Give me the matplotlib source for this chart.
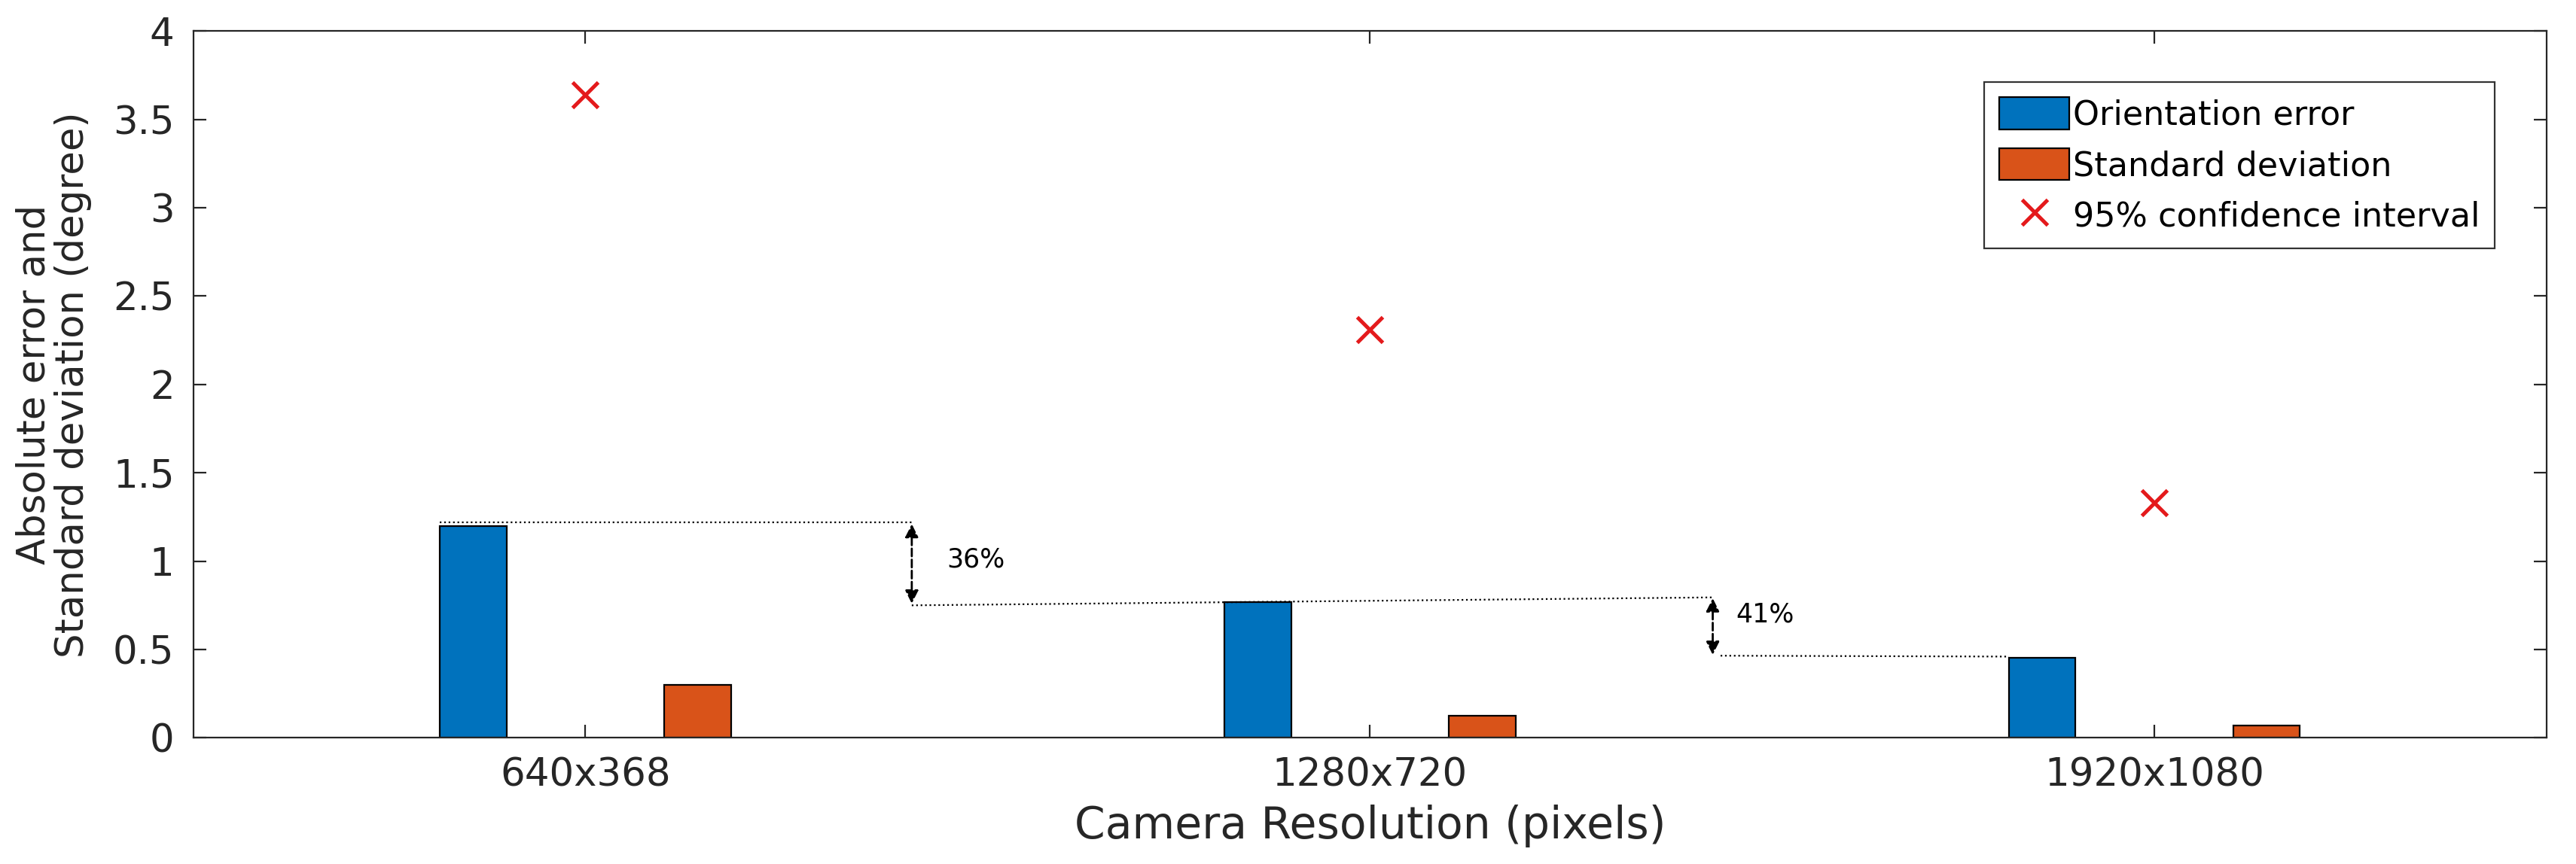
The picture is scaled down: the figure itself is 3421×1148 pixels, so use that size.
import numpy as np
import matplotlib.pyplot as plt

# camera resolution experiment
RESOLUTIONS = ['640x368', '1280x720', '1920x1080']
ORIENT_ERR = [1.20, 0.77, 0.455]
STD_DEV = [0.30, 0.125, 0.07]
CONF95 = [3.64, 2.31, 1.33]
REDUCTION = ['36%', '41%']

BLUE = '#0072BD'
ORANGE = '#D95319'
AXC = '#262626'

plt.rcParams['font.family'] = 'DejaVu Sans'

fig = plt.figure(figsize=(17.105, 5.74), dpi=200)
ax = fig.add_axes([0.075, 0.146, 0.9136, 0.818])

xs = np.arange(1, len(RESOLUTIONS) + 1)
w = 0.085
off = 0.143
b1 = ax.bar(xs - off, ORIENT_ERR, w, color=BLUE, edgecolor='black', linewidth=0.8, label='Orientation error')
b2 = ax.bar(xs + off, STD_DEV, w, color=ORANGE, edgecolor='black', linewidth=0.8, label='Standard deviation')
ci, = ax.plot(xs, CONF95, linestyle='none', marker='x', markersize=12, markeredgewidth=1.8,
              color='#E41A1C', label='95% confidence interval')

# dotted guide lines and reduction arrows
ax_x = [1.416, 2.437]
ax.plot([xs[0] - off - w / 2, ax_x[0]], [ORIENT_ERR[0] + 0.02, ORIENT_ERR[0] + 0.02],
        linestyle=':', color='black', linewidth=0.8)
ax.plot([ax_x[0], ax_x[1]], [0.75, ORIENT_ERR[1] + 0.025],
        linestyle=':', color='black', linewidth=0.8)
ax.plot([ax_x[1] + 0.01, xs[2] - off - w / 2], [0.465, ORIENT_ERR[2] + 0.005],
        linestyle=':', color='black', linewidth=0.8)

arrows = [(ORIENT_ERR[0] + 0.01, 0.76), (ORIENT_ERR[1] + 0.02, 0.47)]
for i, (y0, y1) in enumerate(arrows):
    ax.annotate('', xy=(ax_x[i], y1), xytext=(ax_x[i], y0),
                arrowprops=dict(arrowstyle='<|-|>', color='black', lw=1.0, linestyle='--',
                                mutation_scale=13, shrinkA=0, shrinkB=0))
ax.text(ax_x[0] + 0.045, 1.01, REDUCTION[0], fontsize=12.5, color='black', va='center')
ax.text(ax_x[1] + 0.03, 0.70, REDUCTION[1], fontsize=12.5, color='black', va='center')

ax.set_xlim(0.5, 3.5)
ax.set_ylim(0, 4)
ax.set_xticks(xs)
ax.set_xticklabels(RESOLUTIONS)
ax.set_yticks(np.arange(0, 4.01, 0.5))
ax.set_yticklabels(['0', '0.5', '1', '1.5', '2', '2.5', '3', '3.5', '4'])
ax.tick_params(direction='in', length=6, width=0.8, top=True, right=True,
               labelsize=18.5, colors=AXC, pad=9)
for s in ax.spines.values():
    s.set_color(AXC)
    s.set_linewidth(0.8)

ax.set_xlabel('Camera Resolution (pixels)', fontsize=21, color=AXC, labelpad=5)
ax.set_ylabel('Absolute error and\nStandard deviation (degree)', fontsize=18.5, color=AXC,
              linespacing=1.05, labelpad=10)

leg = ax.legend([b1, b2, ci], ['Orientation error', 'Standard deviation', '95% confidence interval'],
                loc='upper right', bbox_to_anchor=(0.978, 0.928), fontsize=16,
                frameon=True, fancybox=False, edgecolor='black', handlelength=2.1,
                handleheight=1.1, handletextpad=0.1, borderpad=0.45, labelspacing=0.5,
                borderaxespad=0)
leg.get_frame().set_linewidth(0.8)

fig.savefig('out.png', dpi=200)
